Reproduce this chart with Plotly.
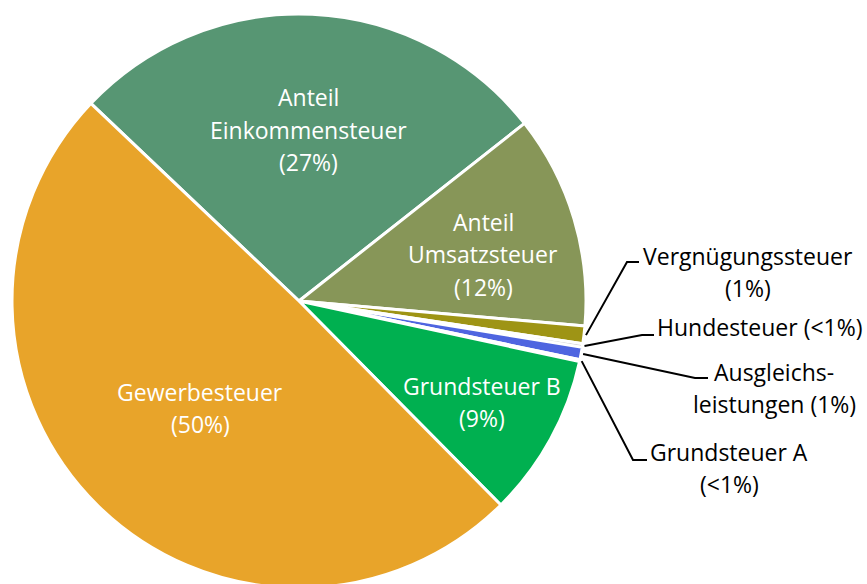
import math
import plotly.graph_objects as go

# ---- data ----
categories = ["Anteil Einkommensteuer", "Anteil Umsatzsteuer", "Vergnügungssteuer",
              "Hundesteuer", "Ausgleichsleistungen", "Grundsteuer A",
              "Grundsteuer B", "Gewerbesteuer"]
shares = [27.3, 12.0, 1.0, 0.2, 0.7, 0.1, 9.2, 49.5]
label_texts = ["Anteil<br>Einkommensteuer<br>(27%)", "Anteil<br>Umsatzsteuer<br>(12%)",
               "Vergnügungssteuer<br>(1%)", "Hundesteuer (<1%)",
               "Ausgleichs-<br>leistungen (1%)", "Grundsteuer A<br>(<1%)",
               "Grundsteuer B<br>(9%)", "Gewerbesteuer<br>(50%)"]
colors = ["#579673", "#879658", "#9E9415", "#C9C9C9", "#4F65E0", "#2E9E6A",
          "#00B050", "#E8A42A"]

W, H = 867, 600          # page window is 584 tall; pie runs off the bottom like the reference
CX, CY, R = 299.0, 301.0, 287.0
ROT = -46.5

fig = go.Figure(go.Pie(
    labels=categories, values=shares, sort=False, direction="clockwise",
    rotation=ROT, textinfo="none", hoverinfo="label+percent",
    marker=dict(colors=colors, line=dict(color="white", width=3)),
    domain=dict(x=[(CX - R) / W, (CX + R) / W],
                y=[1 - (CY + R) / H, 1 - (CY - R) / H]),
))

FONT = "Open Sans"
FS = 23
LS = 32.5  # line spacing in px

# label placement (pixel centres of the text blocks)
inside_pos = {0: (308, 130), 1: (483, 254), 6: (482, 402), 7: (200, 408)}
outside_pos = {2: (748, 272), 3: (760, 327), 4: (774, 388), 5: (729, 468)}
# elbow and end of leader lines
elbows = {2: ((627, 262), (639, 262)), 3: ((642, 335), (654, 335)),
          4: ((695, 378), (708, 378)), 5: ((633, 460), (647, 460))}

def px(x, y):
    return x / W, 1 - y / H

anns = []
def add_label(i, pos, color):
    lines = label_texts[i].split("<br>")
    x, yc = pos
    n = len(lines)
    for k, line in enumerate(lines):
        y = yc + (k - (n - 1) / 2) * LS
        ax, ay = px(x, y)
        anns.append(dict(x=ax, y=ay, xref="paper", yref="paper", text=line,
                         showarrow=False, xanchor="center", yanchor="middle",
                         font=dict(family=FONT, size=FS, color=color)))

for i, p in inside_pos.items():
    add_label(i, p, "white")
for i, p in outside_pos.items():
    add_label(i, p, "black")

total = sum(shares)
shapes = []
cum = 0.0
for i, v in enumerate(shares):
    mid = math.radians(ROT + (cum + v / 2) / total * 360.0)
    cum += v
    if i in elbows:
        sx = CX + (R + 2) * math.sin(mid)
        sy = CY - (R + 2) * math.cos(mid)
        (ex, ey), (fx, fy) = elbows[i]
        p0, p1, p2 = px(sx, sy), px(ex, ey), px(fx, fy)
        shapes.append(dict(type="path", xref="paper", yref="paper",
                           path=f"M {p0[0]},{p0[1]} L {p1[0]},{p1[1]} L {p2[0]},{p2[1]}",
                           line=dict(color="black", width=2)))

fig.update_layout(width=W, height=H, margin=dict(l=0, r=0, t=0, b=0),
                  paper_bgcolor="white", plot_bgcolor="white", showlegend=False,
                  annotations=anns, shapes=shapes)
fig.write_html("out.html", config={"displayModeBar": False},
               post_script="document.body.style.margin='0';document.body.style.overflow='hidden';")
